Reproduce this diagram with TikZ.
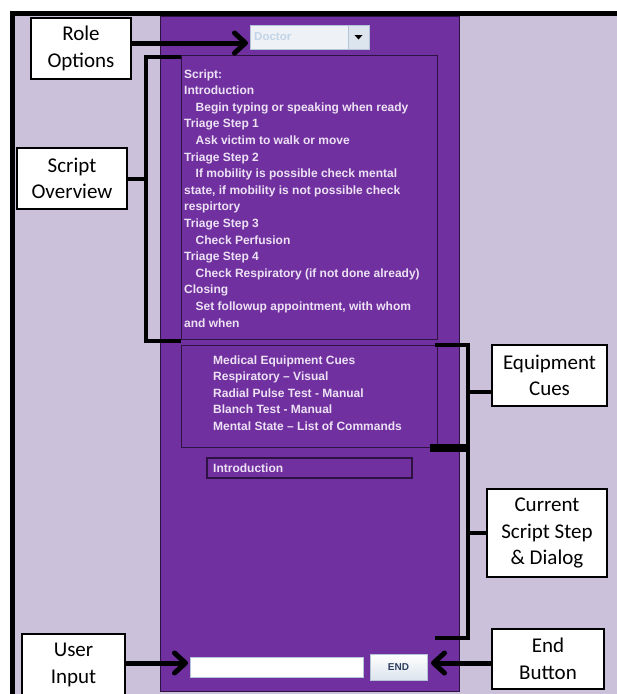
\documentclass[tikz,border=0pt]{standalone}
\usepackage{fontspec}
\setmainfont{Liberation Sans}
\newfontfamily\calloutfont{Carlito}
\usetikzlibrary{arrows.meta}
\definecolor{lav}{HTML}{CCC1DA}
\definecolor{panel}{HTML}{7030A0}
\definecolor{panelline}{HTML}{2E1242}
\definecolor{uitext}{HTML}{EDE2F4}
\definecolor{ddfill}{HTML}{EEF1F5}
\definecolor{ddline}{HTML}{B4C4D6}
\definecolor{ddtext}{HTML}{C2D4E8}
\definecolor{btnfill}{HTML}{DCE4EE}
\definecolor{endtext}{HTML}{2F3F5F}

\begin{document}
\begin{tikzpicture}[x=1pt,y=-1pt,
  callout/.style={draw=black, line width=2pt, fill=white, text=black,
    font=\calloutfont\fontsize{21}{26.5}\selectfont, align=center, inner sep=0pt},
  uibox/.style={draw=panelline, line width=1pt, inner sep=0pt},
  uiline/.style={text=uitext, font=\bfseries\fontsize{12}{14}\selectfont,
    anchor=base west, inner sep=0pt},
  bracket/.style={draw=black, line width=4pt},
  arw/.style={draw=black, line width=5pt,
    -{Straight Barb[length=11pt,width=20pt,round]}},
]
\useasboundingbox (0,0) rectangle (617,694);

% page frame and backgrounds
\fill[white] (0,0) rectangle (617,694);
\fill[lav] (15,16) rectangle (617,694);
\draw[black, line width=5pt] (12.5,694) -- (12.5,13.5) -- (617,13.5);

% application window
\node[draw=panelline, fill=panel, line width=1pt, minimum width=299pt,
  minimum height=675pt, inner sep=0pt] (win) at (309.5,353.5) {};

% role drop-down
\node[draw=ddline, fill=ddfill, line width=1pt, minimum width=98pt,
  minimum height=24pt, inner sep=0pt] (dd) at (299,37) {};
\node[text=ddtext, font=\bfseries\fontsize{11.5}{13}\selectfont, anchor=west,
  inner sep=0pt] (ddlabel) at (254,37) {Doctor};
\node[draw=ddline, fill=btnfill, line width=1pt, minimum width=21pt,
  minimum height=24pt, inner sep=0pt] (ddbtn) at (358.5,37) {};
\fill[black, shift={(ddbtn.center)}] (-4,-2) -- (4,-2) -- (0,2.5) -- cycle;

% script overview panel
\node[uibox, minimum width=256pt, minimum height=284pt] (sbox) at (309,197) {};
\foreach \ind/\txt [count=\i from 0] in {
  0/Script:,
  0/Introduction,
  11.5/Begin typing or speaking when ready,
  0/Triage Step 1,
  11.5/Ask victim to walk or move,
  0/Triage Step 2,
  11.5/If mobility is possible check mental,
  {0/state, if mobility is not possible check},
  0/respirtory,
  0/Triage Step 3,
  11.5/Check Perfusion,
  0/Triage Step 4,
  11.5/Check Respiratory (if not done already),
  0/Closing,
  {11.5/Set followup appointment, with whom},
  0/and when}
  \node[uiline] (sl\i) at (184+\ind, 78+16.6*\i) {\txt};

% equipment cues panel
\node[uibox, minimum width=256pt, minimum height=102pt] (ebox) at (309,396) {};
\foreach \txt [count=\i from 0] in {
  Medical Equipment Cues,
  Respiratory – Visual,
  Radial Pulse Test - Manual,
  Blanch Test - Manual,
  Mental State – List of Commands}
  \node[uiline] (el\i) at (213, 364+16.6*\i) {\txt};

% current script step
\node[uibox, line width=1.5pt, minimum width=205pt, minimum height=20pt] (ibox) at (309.5,468) {};
\node[uiline] (ilabel) at (213,472.5) {Introduction};

% user input field and end button
\node[draw=ddline, fill=white, line width=1pt, minimum width=173pt,
  minimum height=20pt, inner sep=0pt] (tf) at (276.5,667.5) {};
\node[draw=ddline, top color=white, bottom color=btnfill, line width=1pt,
  minimum width=57pt, minimum height=26pt, inner sep=0pt, text=endtext,
  font=\bfseries\fontsize{10}{12}\selectfont] (endb) at (398.5,667) {END};

% callouts
\node[callout, minimum width=100pt, minimum height=61pt] (role) at (81,48.5) {Role\\Options};
\node[callout, minimum width=110pt, minimum height=61pt] (overview) at (72,178.5) {Script\\Overview};
\node[callout, minimum width=115pt, minimum height=61pt] (equip) at (549.5,375.5) {Equipment\\Cues};
\node[callout, minimum width=120pt, minimum height=88pt] (current) at (547,533) {Current\\Script Step\\\& Dialog};
\node[callout, minimum width=103pt, minimum height=62pt] (userin) at (73.5,665) {User\\Input};
\node[callout, minimum width=112pt, minimum height=60pt] (endcall) at (548,659) {End\\Button};

% brackets
\draw[bracket] (181,57) -- (146,57) -- (146,341) -- (181,341);
\draw[bracket] (overview.east) -- (overview.east -| 146,0);
\draw[bracket] (435,345) -- (468,345) -- (468,446) -- (430,446);
\draw[bracket] (468,392) -- (equip.west |- 0,392);
\draw[bracket] (430,450) -- (468,450) -- (468,638) -- (435,638);
\draw[bracket] (468,533) -- (current.west);

% arrows
\draw[arw] (role.east |- 0,43) -- (248,43);
\draw[arw] (userin.east |- 0,663) -- (188,663);
\draw[arw] (endcall.west |- 0,663) -- (431,663);
\end{tikzpicture}
\end{document}
